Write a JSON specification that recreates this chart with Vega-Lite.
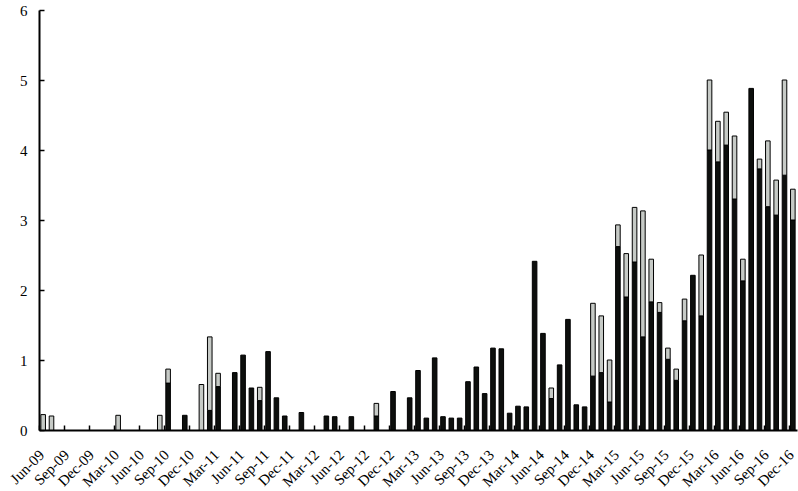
{
  "$schema": "https://vega.github.io/schema/vega-lite/v6.json",
  "autosize": "none",
  "width": 758,
  "height": 420,
  "padding": {"left": 39, "top": 10, "right": 1, "bottom": 61},
  "background": "white",
  "config": {
    "view": {"stroke": null},
    "axis": {"labelFont": "Liberation Serif", "labelFontSize": 15, "labelColor": "black", "domainColor": "black", "tickColor": "black", "grid": false, "title": null}
  },
  "data": {"values": [
    {"m":"Jun-09","a":0,"b":0.22},{"m":"Jul-09","a":0,"b":0.20},{"m":"Aug-09","a":0,"b":0},{"m":"Sep-09","a":0,"b":0},
    {"m":"Oct-09","a":0,"b":0},{"m":"Nov-09","a":0,"b":0},{"m":"Dec-09","a":0,"b":0},{"m":"Jan-10","a":0,"b":0},
    {"m":"Feb-10","a":0,"b":0},{"m":"Mar-10","a":0,"b":0.21},{"m":"Apr-10","a":0,"b":0},{"m":"May-10","a":0,"b":0},
    {"m":"Jun-10","a":0,"b":0},{"m":"Jul-10","a":0,"b":0},{"m":"Aug-10","a":0,"b":0.21},{"m":"Sep-10","a":0.67,"b":0.20},
    {"m":"Oct-10","a":0,"b":0},{"m":"Nov-10","a":0.21,"b":0},{"m":"Dec-10","a":0,"b":0},{"m":"Jan-11","a":0,"b":0.65},
    {"m":"Feb-11","a":0.28,"b":1.05},{"m":"Mar-11","a":0.62,"b":0.19},{"m":"Apr-11","a":0,"b":0},{"m":"May-11","a":0.82,"b":0},
    {"m":"Jun-11","a":1.07,"b":0},{"m":"Jul-11","a":0.60,"b":0},{"m":"Aug-11","a":0.42,"b":0.19},{"m":"Sep-11","a":1.12,"b":0},
    {"m":"Oct-11","a":0.46,"b":0},{"m":"Nov-11","a":0.20,"b":0},{"m":"Dec-11","a":0,"b":0},{"m":"Jan-12","a":0.25,"b":0},
    {"m":"Feb-12","a":0,"b":0},{"m":"Mar-12","a":0,"b":0},{"m":"Apr-12","a":0.20,"b":0},{"m":"May-12","a":0.19,"b":0},
    {"m":"Jun-12","a":0,"b":0},{"m":"Jul-12","a":0.19,"b":0},{"m":"Aug-12","a":0,"b":0},{"m":"Sep-12","a":0,"b":0},
    {"m":"Oct-12","a":0.20,"b":0.18},{"m":"Nov-12","a":0,"b":0},{"m":"Dec-12","a":0.55,"b":0},{"m":"Jan-13","a":0,"b":0},
    {"m":"Feb-13","a":0.46,"b":0},{"m":"Mar-13","a":0.85,"b":0},{"m":"Apr-13","a":0.17,"b":0},{"m":"May-13","a":1.03,"b":0},
    {"m":"Jun-13","a":0.19,"b":0},{"m":"Jul-13","a":0.17,"b":0},{"m":"Aug-13","a":0.17,"b":0},{"m":"Sep-13","a":0.69,"b":0},
    {"m":"Oct-13","a":0.90,"b":0},{"m":"Nov-13","a":0.52,"b":0},{"m":"Dec-13","a":1.17,"b":0},{"m":"Jan-14","a":1.16,"b":0},
    {"m":"Feb-14","a":0.24,"b":0},{"m":"Mar-14","a":0.34,"b":0},{"m":"Apr-14","a":0.33,"b":0},{"m":"May-14","a":2.41,"b":0},
    {"m":"Jun-14","a":1.38,"b":0},{"m":"Jul-14","a":0.45,"b":0.15},{"m":"Aug-14","a":0.93,"b":0},{"m":"Sep-14","a":1.58,"b":0},
    {"m":"Oct-14","a":0.36,"b":0},{"m":"Nov-14","a":0.33,"b":0},{"m":"Dec-14","a":0.77,"b":1.04},{"m":"Jan-15","a":0.82,"b":0.81},
    {"m":"Feb-15","a":0.40,"b":0.60},{"m":"Mar-15","a":2.62,"b":0.31},{"m":"Apr-15","a":1.90,"b":0.62},{"m":"May-15","a":2.40,"b":0.78},
    {"m":"Jun-15","a":1.33,"b":1.80},{"m":"Jul-15","a":1.83,"b":0.61},{"m":"Aug-15","a":1.68,"b":0.14},{"m":"Sep-15","a":1.01,"b":0.16},
    {"m":"Oct-15","a":0.71,"b":0.16},{"m":"Nov-15","a":1.56,"b":0.31},{"m":"Dec-15","a":2.21,"b":0},{"m":"Jan-16","a":1.63,"b":0.87},
    {"m":"Feb-16","a":4.00,"b":1.00},{"m":"Mar-16","a":3.83,"b":0.58},{"m":"Apr-16","a":4.07,"b":0.47},{"m":"May-16","a":3.30,"b":0.90},
    {"m":"Jun-16","a":2.13,"b":0.31},{"m":"Jul-16","a":4.88,"b":0},{"m":"Aug-16","a":3.73,"b":0.14},{"m":"Sep-16","a":3.19,"b":0.94},
    {"m":"Oct-16","a":3.07,"b":0.50},{"m":"Nov-16","a":3.64,"b":1.36},{"m":"Dec-16","a":3.00,"b":0.44}
  ]},
  "transform": [
    {"fold": ["a", "b"], "as": ["series", "v"]},
    {"filter": "datum.v > 0"}
  ],
  "mark": {"type": "bar", "stroke": "black", "strokeWidth": 1},
  "encoding": {
    "x": {
      "field": "m", "type": "ordinal",
      "scale": {
        "domain": ["Jun-09","Jul-09","Aug-09","Sep-09","Oct-09","Nov-09","Dec-09","Jan-10","Feb-10","Mar-10","Apr-10","May-10","Jun-10","Jul-10","Aug-10","Sep-10","Oct-10","Nov-10","Dec-10","Jan-11","Feb-11","Mar-11","Apr-11","May-11","Jun-11","Jul-11","Aug-11","Sep-11","Oct-11","Nov-11","Dec-11","Jan-12","Feb-12","Mar-12","Apr-12","May-12","Jun-12","Jul-12","Aug-12","Sep-12","Oct-12","Nov-12","Dec-12","Jan-13","Feb-13","Mar-13","Apr-13","May-13","Jun-13","Jul-13","Aug-13","Sep-13","Oct-13","Nov-13","Dec-13","Jan-14","Feb-14","Mar-14","Apr-14","May-14","Jun-14","Jul-14","Aug-14","Sep-14","Oct-14","Nov-14","Dec-14","Jan-15","Feb-15","Mar-15","Apr-15","May-15","Jun-15","Jul-15","Aug-15","Sep-15","Oct-15","Nov-15","Dec-15","Jan-16","Feb-16","Mar-16","Apr-16","May-16","Jun-16","Jul-16","Aug-16","Sep-16","Oct-16","Nov-16","Dec-16"],
        "paddingInner": 0.45, "paddingOuter": 0.225
      },
      "axis": {
        "values": ["Jun-09","Sep-09","Dec-09","Mar-10","Jun-10","Sep-10","Dec-10","Mar-11","Jun-11","Sep-11","Dec-11","Mar-12","Jun-12","Sep-12","Dec-12","Mar-13","Jun-13","Sep-13","Dec-13","Mar-14","Jun-14","Sep-14","Dec-14","Mar-15","Jun-15","Sep-15","Dec-15","Mar-16","Jun-16","Sep-16","Dec-16"],
        "bandPosition": 0, "tickOffset": -2,
        "tickSize": -5, "tickWidth": 1.5, "domainWidth": 2,
        "labelAngle": -45, "labelAlign": "right", "labelBaseline": "middle",
        "labelPadding": 27, "labelOverlap": false
      }
    },
    "y": {
      "field": "v", "type": "quantitative", "stack": "zero",
      "scale": {"domain": [0, 6], "nice": false},
      "axis": {"values": [0,1,2,3,4,5,6], "tickSize": -5, "tickWidth": 1.5, "domainWidth": 2, "labelPadding": 17}
    },
    "color": {"field": "series", "type": "nominal", "scale": {"domain": ["a", "b"], "range": ["#0d0f0d", "#c6cac6"]}, "legend": null},
    "order": {"field": "series", "sort": "ascending"}
  }
}
